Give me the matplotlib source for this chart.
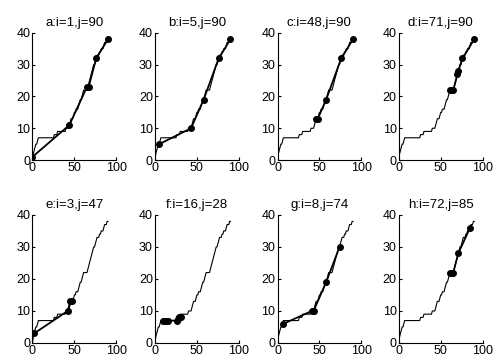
import matplotlib
matplotlib.use("Agg")
import matplotlib.pyplot as plt

plt.rcParams['font.family'] = ['Liberation Sans', 'DejaVu Sans']

# digital curve (vertices of the staircase contour)
curve_x = [0, 1, 2, 3, 4, 5, 6, 7, 8, 25, 26, 29, 30, 39, 40, 43, 44, 45, 46, 48,
           49, 50, 51, 52, 54, 55, 56, 57, 58, 59, 60, 61, 65, 66, 67, 68, 69, 70,
           71, 72, 73, 74, 75, 76, 77, 79, 80, 81, 82, 84, 85, 86, 88, 89, 90]
curve_y = [0, 2, 3, 4, 5, 5, 6, 7, 7, 7, 8, 8, 9, 9, 10, 10, 11, 12, 13, 13,
           14, 15, 15, 16, 16, 17, 18, 19, 19, 20, 21, 22, 22, 23, 24, 25, 26, 27,
           28, 29, 30, 30, 31, 32, 33, 33, 34, 34, 35, 35, 36, 37, 37, 38, 38]

titles = ["a:i=1,j=90", "b:i=5,j=90", "c:i=48,j=90", "d:i=71,j=90",
          "e:i=3,j=47", "f:i=16,j=28", "g:i=8,j=74", "h:i=72,j=85"]

# polygon vertices found for each (i, j)
poly_a_x = [0, 44, 65, 67, 76, 90]
poly_a_y = [1, 11, 23, 23, 32, 38]
poly_b_x = [5, 43, 58, 76, 90]
poly_b_y = [5, 10, 19, 32, 38]
poly_c_x = [46, 48, 58, 76, 90]
poly_c_y = [13, 13, 19, 32, 38]
poly_d_x = [61, 64, 65, 70, 71, 76, 90]
poly_d_y = [22, 22, 22, 27, 28, 32, 38]
poly_e_x = [2, 42, 45, 47]
poly_e_y = [3, 10, 13, 13]
poly_f_x = [10, 12, 14, 16, 26, 27, 29, 31]
poly_f_y = [7, 7, 7, 7, 7, 7.5, 8, 8]
poly_g_x = [7, 41, 43, 58, 74]
poly_g_y = [6, 10, 10, 19, 30]
poly_h_x = [61, 64, 65, 71, 85]
poly_h_y = [22, 22, 22, 28, 36]

polys = [(poly_a_x, poly_a_y), (poly_b_x, poly_b_y), (poly_c_x, poly_c_y),
         (poly_d_x, poly_d_y), (poly_e_x, poly_e_y), (poly_f_x, poly_f_y),
         (poly_g_x, poly_g_y), (poly_h_x, poly_h_y)]

fig = plt.figure(figsize=(4.96, 3.58), dpi=100)
lefts = [0.0655, 0.3125, 0.5595, 0.804]
rows = [(0.553, 0.355), (0.042, 0.3575)]

for k in range(8):
    r, c = divmod(k, 4)
    ax = fig.add_axes([lefts[c], rows[r][0], 0.169, rows[r][1]])
    ax.plot(curve_x, curve_y, color='black', lw=0.8)
    px, py = polys[k]
    ax.plot(px, py, color='black', lw=1.3, marker='o', markersize=4)
    ax.set_xlim(0, 100)
    ax.set_ylim(0, 40)
    ax.set_xticks([0, 50, 100])
    ax.set_yticks([0, 10, 20, 30, 40])
    ax.spines['top'].set_visible(False)
    ax.spines['right'].set_visible(False)
    ax.tick_params(direction='in', length=2.5, labelsize=9, pad=1.5)
    ax.set_title(titles[k], fontsize=9.5, pad=5)

fig.savefig("out.png", dpi=100)
